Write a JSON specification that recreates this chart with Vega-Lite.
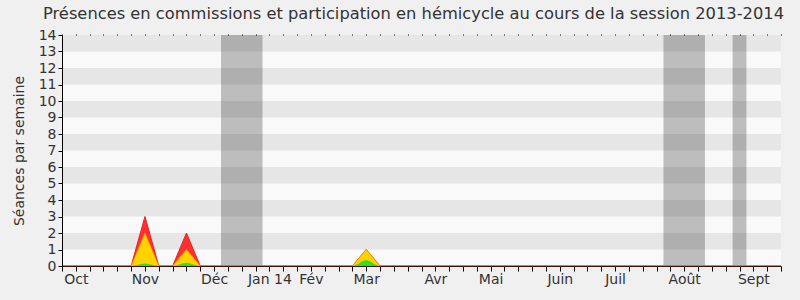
{
  "$schema": "https://vega.github.io/schema/vega-lite/v6.json",
  "width": 719,
  "height": 231,
  "autosize": {"type": "none"},
  "padding": {"left": 62, "top": 35, "right": 19, "bottom": 34},
  "background": "#f0f0f0",
  "view": {"fill": "#f9f9f9", "stroke": null},
  "config": {
    "font": "DejaVu Sans",
    "axis": {"labelFont": "DejaVu Sans", "labelFontSize": 14, "labelColor": "#333333", "titleFont": "DejaVu Sans", "titleFontSize": 14, "titleFontWeight": "normal", "titleColor": "#333333", "grid": false}
  },
  "title": {
    "text": "Présences en commissions et participation en hémicycle au cours de la session 2013-2014",
    "font": "DejaVu Sans",
    "fontSize": 16.3,
    "fontWeight": "normal",
    "color": "#333333",
    "anchor": "middle",
    "frame": "group",
    "dx": -8,
    "offset": 6
  },
  "datasets": {
    "bandes": [
      {"bas": 1, "haut": 2}, {"bas": 3, "haut": 4}, {"bas": 5, "haut": 6},
      {"bas": 7, "haut": 8}, {"bas": 9, "haut": 10}, {"bas": 11, "haut": 12},
      {"bas": 13, "haut": 14}
    ],
    "vacances": [
      {"debut": 11.5, "fin": 14.5},
      {"debut": 43.5, "fin": 46.5},
      {"debut": 48.5, "fin": 49.5}
    ],
    "semaines": [
      {"semaine": 0, "total": 0, "commission": 0, "hemicycle": 0},
      {"semaine": 1, "total": 0, "commission": 0, "hemicycle": 0},
      {"semaine": 2, "total": 0, "commission": 0, "hemicycle": 0},
      {"semaine": 3, "total": 0, "commission": 0, "hemicycle": 0},
      {"semaine": 4, "total": 0, "commission": 0, "hemicycle": 0},
      {"semaine": 5, "total": 0, "commission": 0, "hemicycle": 0},
      {"semaine": 6, "total": 3, "commission": 2, "hemicycle": 0.15},
      {"semaine": 7, "total": 0, "commission": 0, "hemicycle": 0},
      {"semaine": 8, "total": 0, "commission": 0, "hemicycle": 0},
      {"semaine": 9, "total": 2, "commission": 1, "hemicycle": 0.2},
      {"semaine": 10, "total": 0, "commission": 0, "hemicycle": 0},
      {"semaine": 11, "total": 0, "commission": 0, "hemicycle": 0},
      {"semaine": 12, "total": 0, "commission": 0, "hemicycle": 0},
      {"semaine": 13, "total": 0, "commission": 0, "hemicycle": 0},
      {"semaine": 14, "total": 0, "commission": 0, "hemicycle": 0},
      {"semaine": 15, "total": 0, "commission": 0, "hemicycle": 0},
      {"semaine": 16, "total": 0, "commission": 0, "hemicycle": 0},
      {"semaine": 17, "total": 0, "commission": 0, "hemicycle": 0},
      {"semaine": 18, "total": 0, "commission": 0, "hemicycle": 0},
      {"semaine": 19, "total": 0, "commission": 0, "hemicycle": 0},
      {"semaine": 20, "total": 0, "commission": 0, "hemicycle": 0},
      {"semaine": 21, "total": 0, "commission": 0, "hemicycle": 0},
      {"semaine": 22, "total": 1, "commission": 1, "hemicycle": 0.35},
      {"semaine": 23, "total": 0, "commission": 0, "hemicycle": 0},
      {"semaine": 24, "total": 0, "commission": 0, "hemicycle": 0},
      {"semaine": 25, "total": 0, "commission": 0, "hemicycle": 0},
      {"semaine": 26, "total": 0, "commission": 0, "hemicycle": 0},
      {"semaine": 27, "total": 0, "commission": 0, "hemicycle": 0},
      {"semaine": 28, "total": 0, "commission": 0, "hemicycle": 0},
      {"semaine": 29, "total": 0, "commission": 0, "hemicycle": 0},
      {"semaine": 30, "total": 0, "commission": 0, "hemicycle": 0},
      {"semaine": 31, "total": 0, "commission": 0, "hemicycle": 0},
      {"semaine": 32, "total": 0, "commission": 0, "hemicycle": 0},
      {"semaine": 33, "total": 0, "commission": 0, "hemicycle": 0},
      {"semaine": 34, "total": 0, "commission": 0, "hemicycle": 0},
      {"semaine": 35, "total": 0, "commission": 0, "hemicycle": 0},
      {"semaine": 36, "total": 0, "commission": 0, "hemicycle": 0},
      {"semaine": 37, "total": 0, "commission": 0, "hemicycle": 0},
      {"semaine": 38, "total": 0, "commission": 0, "hemicycle": 0},
      {"semaine": 39, "total": 0, "commission": 0, "hemicycle": 0},
      {"semaine": 40, "total": 0, "commission": 0, "hemicycle": 0},
      {"semaine": 41, "total": 0, "commission": 0, "hemicycle": 0},
      {"semaine": 42, "total": 0, "commission": 0, "hemicycle": 0},
      {"semaine": 43, "total": 0, "commission": 0, "hemicycle": 0},
      {"semaine": 44, "total": 0, "commission": 0, "hemicycle": 0},
      {"semaine": 45, "total": 0, "commission": 0, "hemicycle": 0},
      {"semaine": 46, "total": 0, "commission": 0, "hemicycle": 0},
      {"semaine": 47, "total": 0, "commission": 0, "hemicycle": 0},
      {"semaine": 48, "total": 0, "commission": 0, "hemicycle": 0},
      {"semaine": 49, "total": 0, "commission": 0, "hemicycle": 0},
      {"semaine": 50, "total": 0, "commission": 0, "hemicycle": 0},
      {"semaine": 51, "total": 0, "commission": 0, "hemicycle": 0},
      {"semaine": 52, "total": 0, "commission": 0, "hemicycle": 0}
    ]
  },
  "resolve": {"axis": {"x": "independent", "y": "independent"}},
  "layer": [
    {
      "data": {"name": "bandes"},
      "mark": {"type": "rect", "color": "#e6e6e6"},
      "encoding": {
        "y": {
          "field": "bas", "type": "quantitative",
          "scale": {"domain": [0, 14], "nice": false, "zero": true},
          "axis": {
            "title": "Séances par semaine",
            "values": [0, 1, 2, 3, 4, 5, 6, 7, 8, 9, 10, 11, 12, 13, 14],
            "tickSize": 4, "tickColor": "#000000", "domainColor": "#000000",
            "labelPadding": 2, "titlePadding": 12, "labelOverlap": false, "labelFlush": false,
            "zindex": 1
          }
        },
        "y2": {"field": "haut"}
      }
    },
    {
      "data": {"name": "vacances"},
      "mark": {"type": "rect", "color": "#000000", "opacity": 0.24},
      "encoding": {
        "x": {
          "field": "debut", "type": "quantitative",
          "scale": {"domain": [0, 52], "nice": false, "zero": true},
          "axis": {
            "orient": "top", "labels": false, "domain": false, "title": null,
            "values": [0, 1, 2, 3, 4, 5, 6, 7, 8, 9, 10, 11, 12, 13, 14, 15, 16, 17, 18, 19, 20, 21, 22, 23, 24, 25, 26, 27, 28, 29, 30, 31, 32, 33, 34, 35, 36, 37, 38, 39, 40, 41, 42, 43, 44, 45, 46, 47, 48, 49, 50, 51, 52],
            "tickSize": 1, "tickColor": "#000000", "tickOffset": 0, "zindex": 1
          }
        },
        "x2": {"field": "fin"}
      }
    },
    {
      "data": {"name": "semaines"},
      "mark": {"type": "area", "color": "#ff3030", "stroke": "#ee2020", "strokeWidth": 1, "opacity": 1},
      "encoding": {
        "x": {
          "field": "semaine", "type": "quantitative",
          "axis": {
            "title": null,
            "values": [0, 1, 2, 3, 4, 5, 6, 7, 8, 9, 10, 11, 12, 13, 14, 15, 16, 17, 18, 19, 20, 21, 22, 23, 24, 25, 26, 27, 28, 29, 30, 31, 32, 33, 34, 35, 36, 37, 38, 39, 40, 41, 42, 43, 44, 45, 46, 47, 48, 49, 50, 51, 52],
            "labelExpr": "datum.value == 1 ? 'Oct' : datum.value == 6 ? 'Nov' : datum.value == 11 ? 'Déc' : datum.value == 15 ? 'Jan 14' : datum.value == 18 ? 'Fév' : datum.value == 22 ? 'Mar' : datum.value == 27 ? 'Avr' : datum.value == 31 ? 'Mai' : datum.value == 36 ? 'Juin' : datum.value == 40 ? 'Juil' : datum.value == 45 ? 'Août' : datum.value == 50 ? 'Sept' : ''",
            "tickSize": 5, "tickColor": "#000000", "domainColor": "#3a1408",
            "labelPadding": 1, "labelOverlap": false, "labelFlush": false, "zindex": 1
          }
        },
        "y": {"field": "total", "type": "quantitative", "axis": null}
      }
    },
    {
      "data": {"name": "semaines"},
      "mark": {"type": "area", "color": "#ffd200", "stroke": "#ff9a00", "strokeWidth": 0.6, "opacity": 1},
      "encoding": {
        "x": {"field": "semaine", "type": "quantitative", "axis": null},
        "y": {"field": "commission", "type": "quantitative", "axis": null}
      }
    },
    {
      "data": {"name": "semaines"},
      "mark": {"type": "area", "color": "#33dd22", "interpolate": "monotone", "opacity": 1},
      "encoding": {
        "x": {"field": "semaine", "type": "quantitative", "axis": null},
        "y": {"field": "hemicycle", "type": "quantitative", "axis": null}
      }
    }
  ]
}
